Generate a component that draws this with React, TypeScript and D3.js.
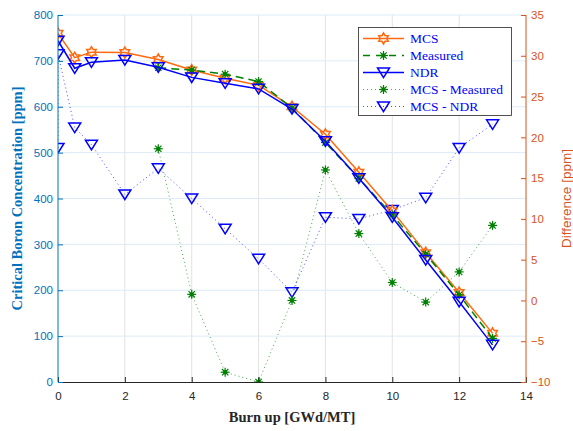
import React, { useEffect, useRef } from 'react'
import * as d3 from 'd3'

// burnup points
const burnup = [0, 0.5, 1, 2, 3, 4, 5, 6, 7, 8, 9, 10, 11, 12, 13]
const mcs = [760, 707, 719, 718, 703, 680, 662, 647, 600, 540, 457, 373, 282, 195, 106]
const ndr = [744, 684, 697, 702, 686, 664, 651, 639, 595, 525, 444, 359, 266, 175, 81]

const measBurnup = [3, 4, 5, 6, 7, 8, 9, 10, 11, 12, 13]
const measured = [685, 680, 671, 655, 597, 522, 444, 364, 279, 190, 95]
const diffMeasured = [18.6, 0.75, -8.8, -10, 0, 16, 8.2, 2.2, -0.2, 3.5, 9.2]

const diffNdrBurnup = [0, 0, 0.5, 1, 2, 3, 4, 5, 6, 7, 8, 9, 10, 11, 12, 13]
const diffNdr = [18.7, 30.2, 21.2, 19.1, 13, 16.2, 12.5, 8.8, 5.1, 1, 10.2, 10, 11.1, 12.6, 18.7, 21.6]

const xTicks = [0, 2, 4, 6, 8, 10, 12, 14]
const leftTicks = [0, 100, 200, 300, 400, 500, 600, 700, 800]
const rightTicks = [-10, -5, 0, 5, 10, 15, 20, 25, 30, 35]

const W = 573, H = 431
const margin = { top: 15, right: 47, bottom: 49, left: 58 }

const ORANGE = '#FF6A10'
const GREEN = '#008000'
const BLUE = '#0000FF'
const LBLUE = '#0072BD'
const RED = '#D95319'

const hexagram = (r: number) => {
  const pts: string[] = []
  for (let i = 0; i < 12; i++) {
    const a = -Math.PI / 2 + (i * Math.PI) / 6
    const rr = i % 2 === 0 ? r : r / Math.sqrt(3)
    pts.push((rr * Math.cos(a)).toFixed(2) + ',' + (rr * Math.sin(a)).toFixed(2))
  }
  return 'M' + pts.join('L') + 'Z'
}
const triDown = (r: number) => `M${-r},${-r * 0.75}L${r},${-r * 0.75}L0,${r * 0.85}Z`

function drawMarker(g: any, kind: string, color: string, x: number, y: number) {
  if (kind === 'hex') {
    g.append('path').attr('d', hexagram(5.5)).attr('transform', `translate(${x},${y})`)
      .attr('fill', 'none').attr('stroke', color).attr('stroke-width', 1.5)
  } else if (kind === 'tri') {
    g.append('path').attr('d', triDown(6)).attr('transform', `translate(${x},${y})`)
      .attr('fill', 'none').attr('stroke', color).attr('stroke-width', 1.5)
  } else {
    const r = 4.5
    const s = g.append('g').attr('transform', `translate(${x},${y})`)
    for (let k = 0; k < 4; k++) {
      const a = (k * Math.PI) / 4
      s.append('line').attr('x1', -r * Math.cos(a)).attr('y1', -r * Math.sin(a))
        .attr('x2', r * Math.cos(a)).attr('y2', r * Math.sin(a))
        .attr('stroke', color).attr('stroke-width', 1.2)
    }
    s.append('circle').attr('r', 2.2).attr('fill', color)
  }
}

export default function App() {
  const ref = useRef<SVGSVGElement>(null)

  useEffect(() => {
    const svg = d3.select(ref.current)
    svg.selectAll('*').remove()

    const x0 = margin.left, x1 = W - margin.right
    const y0 = H - margin.bottom, y1 = margin.top

    const x = d3.scaleLinear().domain([0, 14]).range([x0, x1])
    const yL = d3.scaleLinear().domain([0, 800]).range([y0, y1])
    const yR = d3.scaleLinear().domain([-10, 35]).range([y0, y1])

    svg.append('rect').attr('width', W).attr('height', H).attr('fill', '#fff')

    // grid
    const grid = svg.append('g')
    grid.selectAll('.vg').data(xTicks.slice(1, -1)).enter().append('line')
      .attr('x1', d => x(d)).attr('x2', d => x(d)).attr('y1', y0).attr('y2', y1)
      .attr('stroke', '#e3e3e3').attr('stroke-width', 1)
    grid.selectAll('.hg').data(leftTicks.slice(1)).enter().append('line')
      .attr('x1', x0).attr('x2', x1).attr('y1', d => yL(d)).attr('y2', d => yL(d))
      .attr('stroke', '#dcebf7').attr('stroke-width', 1)

    svg.append('defs').append('clipPath').attr('id', 'plotclip')
      .append('rect').attr('x', x0).attr('y', y1 - 8).attr('width', x1 - x0).attr('height', y0 - y1 + 8)

    const plot = svg.append('g').attr('clip-path', 'url(#plotclip)')

    const series = [
      { xs: diffNdrBurnup, ys: diffNdr, sc: yR, color: BLUE, dash: '1,3', kind: 'tri', w: 1, op: 0.7 },
      { xs: measBurnup, ys: diffMeasured, sc: yR, color: GREEN, dash: '1,3', kind: 'ast', w: 1, op: 0.7 },
      { xs: burnup, ys: mcs, sc: yL, color: ORANGE, dash: null, kind: 'hex', w: 1.5, op: 1 },
      { xs: measBurnup, ys: measured, sc: yL, color: GREEN, dash: '8,5', kind: 'ast', w: 1.5, op: 1 },
      { xs: burnup, ys: ndr, sc: yL, color: BLUE, dash: null, kind: 'tri', w: 1.5, op: 1 },
    ]

    series.forEach(s => {
      const pts = s.xs.map((b, i) => [x(b), s.sc(s.ys[i])] as [number, number])
      const line = d3.line()
      const p = plot.append('path').attr('d', line(pts)).attr('fill', 'none')
        .attr('stroke', s.color).attr('stroke-width', s.w).attr('stroke-opacity', s.op)
      if (s.dash) p.attr('stroke-dasharray', s.dash)
      pts.forEach(([px, py]) => drawMarker(plot, s.kind, s.color, px, py))
    })

    // axes
    const fontTick = 'Liberation Sans, Arial, sans-serif'
    const bottom = svg.append('g').attr('transform', `translate(0,${y0})`)
      .call(d3.axisBottom(x).tickValues(xTicks).tickSize(-5).tickPadding(10).tickFormat(d3.format('d')))
    bottom.select('.domain').attr('stroke', '#262626')
    bottom.selectAll('line').attr('stroke', '#262626')
    bottom.selectAll('text').attr('fill', '#262626').attr('font-size', 11.5).attr('font-family', fontTick)

    const left = svg.append('g').attr('transform', `translate(${x0},0)`)
      .call(d3.axisLeft(yL).tickValues(leftTicks).tickSize(-5).tickPadding(5).tickFormat(d3.format('d')))
    left.select('.domain').attr('stroke', LBLUE).attr('d', `M0,${y0}V${y1}`)
    left.selectAll('line').attr('stroke', LBLUE)
    left.selectAll('text').attr('fill', LBLUE).attr('font-size', 11.5).attr('font-family', fontTick)

    const right = svg.append('g').attr('transform', `translate(${x1},0)`)
      .call(d3.axisRight(yR).tickValues(rightTicks).tickSize(-5).tickPadding(5).tickFormat(d3.format('d')))
    right.select('.domain').attr('stroke', RED).attr('d', `M0,${y0}V${y1}`)
    right.selectAll('line').attr('stroke', RED)
    right.selectAll('text').attr('fill', RED).attr('font-size', 11.5).attr('font-family', fontTick)

    // labels
    svg.append('text').attr('x', (x0 + x1) / 2).attr('y', 422).attr('text-anchor', 'middle')
      .attr('font-family', 'Liberation Serif, Times New Roman, serif').attr('font-weight', 'bold')
      .attr('font-size', 14.5).attr('fill', '#262626').text('Burn up [GWd/MT]')
    svg.append('text').attr('transform', `translate(22,${(y0 + y1) / 2}) rotate(-90)`).attr('text-anchor', 'middle')
      .attr('font-family', 'Liberation Serif, Times New Roman, serif').attr('font-weight', 'bold')
      .attr('font-size', 14.5).attr('fill', LBLUE).text('Critical Boron Concentration [ppm]')
    svg.append('text').attr('transform', `translate(571,${(y0 + y1) / 2}) rotate(-90)`).attr('text-anchor', 'middle')
      .attr('font-family', fontTick).attr('font-size', 13.5).attr('fill', RED).text('Difference [ppm]')

    // legend
    const leg = svg.append('g')
    leg.append('rect').attr('x', 358.5).attr('y', 27.5).attr('width', 153).attr('height', 88)
      .attr('fill', '#fff').attr('stroke', '#262626').attr('stroke-width', 0.8)
    const entries = [
      { name: 'MCS', color: ORANGE, dash: null, kind: 'hex', op: 1 },
      { name: 'Measured', color: GREEN, dash: '8,5', kind: 'ast', op: 1 },
      { name: 'NDR', color: BLUE, dash: null, kind: 'tri', op: 1 },
      { name: 'MCS - Measured', color: GREEN, dash: '1,3', kind: 'ast', op: 0.7 },
      { name: 'MCS - NDR', color: BLUE, dash: '1,3', kind: 'tri', op: 0.7 },
    ]
    entries.forEach((e, i) => {
      const ly = 38.5 + i * 17
      const l = leg.append('line').attr('x1', 363).attr('x2', 404).attr('y1', ly).attr('y2', ly)
        .attr('stroke', e.color).attr('stroke-width', e.dash === '1,3' ? 1 : 1.5).attr('stroke-opacity', e.op)
      if (e.dash) l.attr('stroke-dasharray', e.dash === '8,5' ? '7,6' : e.dash)
      drawMarker(leg, e.kind, e.color, 383.5, ly)
      leg.append('text').attr('x', 410).attr('y', ly + 4.5).attr('font-family', 'Liberation Serif, Times New Roman, serif')
        .attr('font-size', 13.5).attr('fill', BLUE).text(e.name)
    })
  }, [])

  return <svg ref={ref} width={W} height={H} style={{ position: 'absolute', left: 0, top: 0 }} />
}
